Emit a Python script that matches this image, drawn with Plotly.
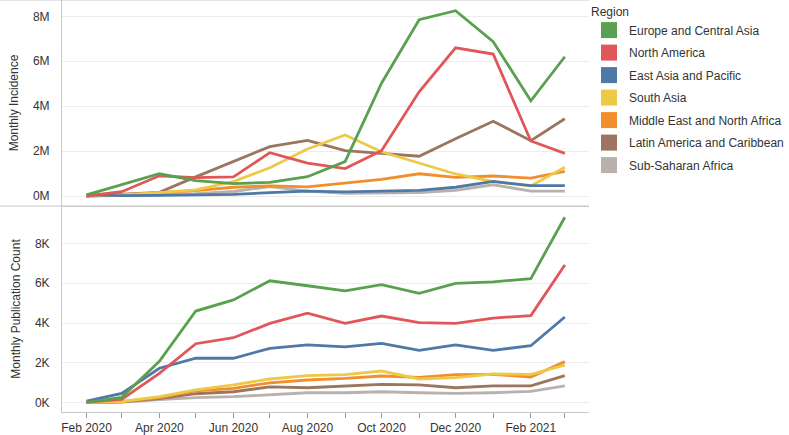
import plotly.graph_objects as go
from plotly.subplots import make_subplots

months = ["2020-02-01", "2020-03-01", "2020-04-01", "2020-05-01", "2020-06-01",
          "2020-07-01", "2020-08-01", "2020-09-01", "2020-10-01", "2020-11-01",
          "2020-12-01", "2021-01-01", "2021-02-01", "2021-03-01"]

regions = ["Europe and Central Asia", "North America", "East Asia and Pacific",
           "South Asia", "Middle East and North Africa", "Latin America and Caribbean",
           "Sub-Saharan Africa"]
colors = ["#59A14F", "#E15759", "#4E79A7", "#EDC948", "#F28E2B", "#9C755F", "#BAB0AC"]

# Monthly incidence (millions)
inc_europe = [0.05, 0.5, 0.99, 0.68, 0.55, 0.61, 0.86, 1.53, 5.02, 7.85, 8.25, 6.87, 4.24, 6.2]
inc_namerica = [0.0, 0.19, 0.9, 0.82, 0.85, 1.93, 1.46, 1.22, 2.02, 4.64, 6.6, 6.32, 2.45, 1.9]
inc_eastasia = [0.05, 0.02, 0.03, 0.05, 0.07, 0.15, 0.22, 0.18, 0.2, 0.25, 0.39, 0.65, 0.46, 0.46]
inc_southasia = [0.0, 0.05, 0.15, 0.27, 0.64, 1.26, 2.09, 2.72, 1.97, 1.46, 0.98, 0.64, 0.45, 1.28]
inc_mideast = [0.0, 0.05, 0.15, 0.24, 0.39, 0.45, 0.41, 0.59, 0.74, 0.99, 0.83, 0.89, 0.8, 1.1]
inc_latam = [0.0, 0.08, 0.16, 0.85, 1.52, 2.2, 2.48, 2.02, 1.9, 1.77, 2.55, 3.33, 2.46, 3.44]
inc_ssafrica = [0.0, 0.02, 0.05, 0.1, 0.2, 0.42, 0.22, 0.12, 0.12, 0.15, 0.25, 0.5, 0.22, 0.22]

# Monthly publication count (thousands)
pub_europe = [0.02, 0.27, 2.08, 4.6, 5.16, 6.12, 5.87, 5.61, 5.92, 5.49, 5.99, 6.06, 6.23, 9.31]
pub_namerica = [0.03, 0.17, 1.47, 2.96, 3.26, 3.98, 4.49, 3.98, 4.35, 4.02, 3.98, 4.25, 4.37, 6.91]
pub_eastasia = [0.08, 0.47, 1.73, 2.23, 2.23, 2.73, 2.9, 2.8, 2.98, 2.63, 2.9, 2.63, 2.86, 4.3]
pub_southasia = [0.02, 0.06, 0.3, 0.64, 0.89, 1.19, 1.36, 1.41, 1.59, 1.19, 1.26, 1.44, 1.42, 1.89]
pub_mideast = [0.02, 0.05, 0.25, 0.59, 0.72, 1.0, 1.14, 1.22, 1.34, 1.27, 1.41, 1.42, 1.29, 2.06]
pub_latam = [0.01, 0.04, 0.2, 0.45, 0.55, 0.79, 0.75, 0.82, 0.92, 0.89, 0.75, 0.84, 0.84, 1.36]
pub_ssafrica = [0.01, 0.03, 0.15, 0.25, 0.3, 0.39, 0.5, 0.5, 0.55, 0.5, 0.47, 0.5, 0.57, 0.84]

incidence = [inc_europe, inc_namerica, inc_eastasia, inc_southasia, inc_mideast, inc_latam, inc_ssafrica]
publications = [pub_europe, pub_namerica, pub_eastasia, pub_southasia, pub_mideast, pub_latam, pub_ssafrica]

inc_ticks = [0, 2, 4, 6, 8]
inc_ticktext = ["0M", "2M", "4M", "6M", "8M"]
pub_ticks = [0, 2, 4, 6, 8]
pub_ticktext = ["0K", "2K", "4K", "6K", "8K"]

FONT = "Liberation Sans, Arial, sans-serif"
TXT = "#333333"
GRID = "#ececec"
LINE = "#c8c8c8"

fig = make_subplots(rows=2, cols=1, shared_xaxes=True, vertical_spacing=0)

# draw in reverse order so first regions are on top
for i in reversed(range(len(regions))):
    fig.add_trace(go.Scatter(x=months, y=[v * 1e6 for v in incidence[i]], mode="lines",
                             line=dict(color=colors[i], width=2.8), showlegend=False,
                             name=regions[i]), row=1, col=1)
    fig.add_trace(go.Scatter(x=months, y=[v * 1e3 for v in publications[i]], mode="lines",
                             line=dict(color=colors[i], width=2.8), showlegend=False,
                             name=regions[i]), row=2, col=1)

# legend swatches
for i, r in enumerate(regions):
    fig.add_trace(go.Scatter(x=[None], y=[None], mode="markers", name=r, legendgroup=r,
                             marker=dict(symbol="square", size=16, color=colors[i]),
                             showlegend=True), row=1, col=1)

xrange = ["2020-01-11 19:00", "2021-03-20 22:00"]

fig.update_xaxes(range=xrange, showgrid=False, zeroline=False, showline=True,
                 linecolor=LINE, linewidth=1)
fig.update_xaxes(row=1, col=1, showticklabels=False, ticks="")
fig.update_xaxes(row=2, col=1, type="date", tick0="2020-02-01", dtick="M2",
                 tickformat="%b %Y", ticks="outside", ticklen=5, tickcolor="#999999",
                 minor=dict(dtick="M1", ticks="outside", ticklen=5, tickcolor="#999999"),
                 tickfont=dict(family=FONT, size=12, color=TXT))

fig.update_yaxes(row=1, col=1, range=[-0.445e6, 8.727e6],
                 tickvals=[v * 1e6 for v in inc_ticks], ticktext=inc_ticktext)
fig.update_yaxes(row=2, col=1, range=[-0.467e3, 9.872e3],
                 tickvals=[v * 1e3 for v in pub_ticks], ticktext=pub_ticktext)
fig.update_yaxes(showgrid=True, gridcolor=GRID, gridwidth=1, zeroline=False,
                 showline=True, linecolor=LINE, linewidth=1, ticks="",
                 ticklabelstandoff=9,
                 tickfont=dict(family=FONT, size=12, color=TXT),
                 title_font=dict(family=FONT, size=12, color=TXT), title_standoff=11)
fig.update_yaxes(row=1, col=1, title_text="Monthly Incidence")
fig.update_yaxes(row=2, col=1, title_text="Monthly Publication Count")

# pane borders extending across the header area
for yv in (1.0, 0.5):
    fig.add_shape(type="line", xref="paper", yref="paper", x0=-62 / 530, x1=1.0,
                  y0=yv, y1=yv, line=dict(color=LINE, width=1))

fig.update_layout(
    width=789, height=435,
    margin=dict(l=62, r=197, t=0, b=23),
    paper_bgcolor="white", plot_bgcolor="white",
    font=dict(family=FONT, size=12, color=TXT),
    legend=dict(title=dict(text="Region", font=dict(family=FONT, size=12, color=TXT)),
                x=1.0, xanchor="left", y=1.0, yanchor="top",
                font=dict(family=FONT, size=12, color=TXT),
                tracegroupgap=3.5, itemsizing="trace", bgcolor="rgba(0,0,0,0)"),
    showlegend=True,
)

fig.write_html("out.html", config={"displayModeBar": False},
               post_script="document.body.style.margin='0';")
